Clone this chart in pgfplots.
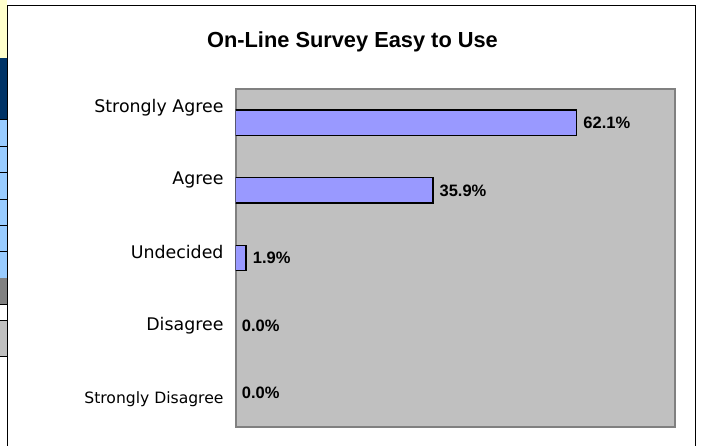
\documentclass[border=0pt]{standalone}
\usepackage{pgfplots}
\pgfplotsset{compat=1.18}
\usepackage{fontspec}
\setmainfont{Liberation Sans}
\newfontfamily\tickfont{DejaVu Sans}

\definecolor{barfill}{HTML}{9999FF}
\definecolor{plotbg}{HTML}{C0C0C0}
\definecolor{plotedge}{HTML}{808080}
\definecolor{cellyellow}{HTML}{FFFFCC}
\definecolor{cellnavy}{HTML}{003366}
\definecolor{cellblue}{HTML}{99CCFF}

\begin{document}
\begin{tikzpicture}[x=1pt,y=1pt]
\useasboundingbox (0,0) rectangle (701,446);
\fill[white] (0,0) rectangle (701,446);

% bits of the spreadsheet left of the chart
\fill[cellyellow] (0,446) rectangle (7,388);
\fill[cellnavy] (0,388) rectangle (7,327);
\fill[cellblue] (0,327) rectangle (7,168);
\foreach \yy in {327,300,274,247,221,195,168}
  \draw[black, line width=0.8pt] (0,\yy) -- (7,\yy);
\fill[plotedge] (0,167.6) rectangle (7,142);
\fill[plotbg] (0,126) rectangle (7,90);
\draw[black, line width=0.8pt] (0,142) -- (7,142);
\draw[black, line width=0.8pt] (0,126) -- (7,126);
\draw[black, line width=0.8pt] (0,90) -- (7,90);

% chart frame
\draw[black, line width=0.9pt] (7,0) -- (7,441) -- (695,441) -- (695,0);

\node[font=\fontsize{21.8}{25}\selectfont\bfseries] at (352.5,404.3) {On-Line Survey Easy to Use};

\begin{axis}[
    at={(235.7pt,19pt)},
    anchor=south west,
    scale only axis,
    width=439.3pt,
    height=338pt,
    xbar,
    bar width=25.3pt,
    bar shift=0pt,
    xmin=0, xmax=80,
    ymin=-0.5, ymax=4.5,
    y dir=reverse,
    xtick=\empty,
    ytick={-0.19,0.87,1.97,3.03,4.12},
    yticklabels={Strongly Agree,Agree,Undecided,Disagree,{\fontsize{15.6}{18}\selectfont Strongly Disagree}},
    major tick length=0pt,
    yticklabel style={font=\tickfont\fontsize{17.4}{20}\selectfont, anchor=mid east, inner sep=0pt, xshift=-12pt},
    axis background/.style={fill=plotbg},
    axis line style={draw=plotedge, line width=2pt},
    nodes near coords={\pgfmathprintnumber[fixed,fixed zerofill,precision=1,assume math mode=true]{\pgfplotspointmeta}\%},
    nodes near coords style={font=\fontsize{16.5}{19}\selectfont\bfseries, anchor=west, inner sep=0pt, xshift=6pt},
    point meta=x,
]
\addplot[fill=barfill, draw=black, line width=1.5pt] coordinates {
    (62.1,0) (35.9,1) (1.9,2)
};
% zero answers: label only, no bar
\addplot[draw=none, fill=none] coordinates {
    (0,3) (0,4)
};
\end{axis}
\end{tikzpicture}
\end{document}
